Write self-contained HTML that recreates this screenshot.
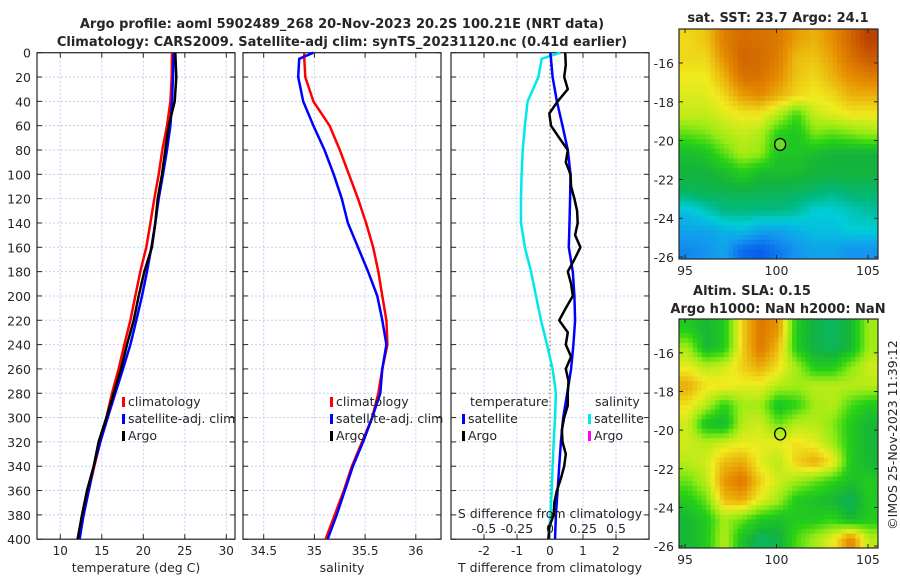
<!DOCTYPE html>
<html><head><meta charset="utf-8"><style>
body{margin:0;background:#fff;}
svg text{font-family:"DejaVu Sans","Liberation Sans",sans-serif;fill:#262626;}
</style></head><body>
<svg id="c" width="900" height="580" viewBox="0 0 900 580" xmlns="http://www.w3.org/2000/svg"></svg>
<script>
// ---------- data ----------
const depths20 = [0,20,40,60,80,100,120,140,160,180,200,220,240,260,280,300,320,340,360,380,400];
const depthsS = [0,5,20,40,60,80,100,120,140,160,180,200,220,240,260,280,300,320,340,360,380,400];
const depths10 = [0,10,20,30,40,50,60,70,80,90,100,110,120,130,140,150,160,170,180,190,200,210,220,230,240,250,260,270,280,290,300,310,320,330,340,350,360,370,380,390,400];
const tempClim = [23.46,23.42,23.26,22.86,22.29,21.85,21.33,20.85,20.36,19.64,19.04,18.44,17.71,17.03,16.23,15.55,14.82,14.10,13.42,12.81,12.13];
const tempSat = [23.66,23.58,23.46,23.26,22.86,22.37,21.85,21.45,20.97,20.45,19.84,19.16,18.44,17.55,16.63,15.71,14.82,14.02,13.42,12.81,12.33];
const tempArgo = [23.86,23.98,23.78,23.06,22.65,22.25,21.73,21.45,21.04,20.12,19.44,18.84,18.04,17.31,16.43,15.55,14.62,14.02,13.22,12.61,12.09];
const salClim = [34.90,34.90,34.91,34.99,35.15,35.25,35.34,35.43,35.51,35.58,35.63,35.67,35.71,35.72,35.67,35.63,35.57,35.47,35.37,35.29,35.20,35.11];
const salSat = [34.99,34.85,34.84,34.89,34.99,35.10,35.19,35.27,35.33,35.43,35.53,35.62,35.67,35.71,35.67,35.65,35.57,35.48,35.38,35.30,35.22,35.13];
const sDiffSat = [0.078,-0.063,-0.088,-0.17,-0.19,-0.207,-0.215,-0.22,-0.22,-0.19,-0.144,-0.106,-0.068,-0.023,0.02,0.045,0.038,0.028,0.02,0.013,0.003,-0.01];
const tDiffSat = [0.01,0.03,0.08,0.21,0.38,0.54,0.62,0.61,0.59,0.57,0.69,0.74,0.76,0.71,0.64,0.52,0.40,0.33,0.28,0.23,0.18,0.15];
const tDiffArgo = [0.46,0.48,0.43,0.54,0.23,-0.02,0.03,0.28,0.54,0.48,0.62,0.64,0.74,0.82,0.84,0.76,0.92,0.74,0.54,0.64,0.69,0.48,0.28,0.54,0.48,0.64,0.48,0.56,0.54,0.54,0.43,0.36,0.38,0.48,0.43,0.33,0.21,0.13,0.11,-0.02,-0.05];
const depthTicks = [0,20,40,60,80,100,120,140,160,180,200,220,240,260,280,300,320,340,360,380,400];
const tempTicks = [10,15,20,25,30];
const salTicks = [34.5,35,35.5,36];
const tDiffTicks = [-2,-1,0,1,2];
const sDiffTicks = [-0.5,-0.25,0,0.25,0.5];
const sDiffLabels = ['-0.5','-0.25','0','0.25','0.5'];
const lonTicks = [95,100,105];
const latTicks = [-16,-18,-20,-22,-24,-26];
const sstGrid = [
[0.72,0.74,0.82,0.85,0.84,0.83,0.78,0.76,0.80,0.86,0.92],
[0.72,0.72,0.80,0.86,0.85,0.82,0.75,0.74,0.78,0.84,0.88],
[0.70,0.70,0.76,0.84,0.84,0.80,0.74,0.72,0.76,0.80,0.82],
[0.68,0.68,0.72,0.78,0.80,0.76,0.72,0.70,0.72,0.76,0.76],
[0.66,0.66,0.68,0.70,0.70,0.64,0.56,0.66,0.68,0.70,0.70],
[0.58,0.60,0.64,0.66,0.64,0.54,0.52,0.60,0.58,0.60,0.62],
[0.50,0.52,0.58,0.64,0.62,0.52,0.52,0.50,0.48,0.48,0.48],
[0.48,0.48,0.50,0.54,0.50,0.50,0.50,0.48,0.48,0.48,0.48],
[0.45,0.46,0.46,0.47,0.46,0.46,0.45,0.44,0.42,0.44,0.44],
[0.34,0.38,0.42,0.42,0.42,0.42,0.40,0.36,0.36,0.38,0.40],
[0.30,0.30,0.32,0.34,0.30,0.30,0.32,0.34,0.34,0.36,0.36],
[0.26,0.28,0.30,0.22,0.20,0.24,0.28,0.30,0.30,0.28,0.28]];
const slaGrid = [
[0.53,0.49,0.53,0.73,0.83,0.79,0.53,0.47,0.45,0.49,0.63],
[0.63,0.49,0.53,0.73,0.83,0.75,0.53,0.47,0.45,0.49,0.63],
[0.69,0.65,0.67,0.73,0.77,0.71,0.63,0.53,0.53,0.61,0.67],
[0.77,0.71,0.71,0.69,0.69,0.65,0.63,0.65,0.65,0.65,0.65],
[0.71,0.65,0.55,0.63,0.63,0.51,0.55,0.63,0.65,0.57,0.53],
[0.67,0.51,0.49,0.65,0.67,0.59,0.65,0.65,0.61,0.53,0.49],
[0.67,0.65,0.67,0.69,0.69,0.69,0.71,0.69,0.63,0.53,0.49],
[0.65,0.67,0.75,0.77,0.69,0.65,0.73,0.77,0.71,0.53,0.49],
[0.59,0.65,0.79,0.83,0.73,0.67,0.63,0.59,0.55,0.51,0.53],
[0.53,0.59,0.75,0.77,0.69,0.63,0.53,0.51,0.49,0.45,0.53],
[0.49,0.53,0.63,0.59,0.53,0.51,0.53,0.53,0.55,0.49,0.53],
[0.49,0.53,0.65,0.51,0.45,0.47,0.57,0.63,0.69,0.81,0.65]];
const argoLon = 100.2, argoLat = -20.2;

// ---------- helpers ----------
const NS='http://www.w3.org/2000/svg';
const svg=document.getElementById('c');
function mk(tag,attrs,parent){const e=document.createElementNS(NS,tag);for(const k in attrs)e.setAttribute(k,attrs[k]);(parent||svg).appendChild(e);return e;}
function txt(s,x,y,o,parent){const t=mk('text',Object.assign({x:x,y:y,'font-size':12},o||{}),parent);t.textContent=s;return t;}
const Y0=52.7, Y1=539.2;
const yD=d=>Y0+d*(Y1-Y0)/400;
const xT=v=>60.3+(v-10)*8.3;
const xS=v=>263.7+(v-34.5)*101.4;
const xTD=v=>550+v*33;
const xSD=v=>550+v*132;

function panel(name,x0,x1,xTicks,xf,labels){
  const g=mk('g',{});
  
  
  depthTicks.forEach(d=>{mk('line',{x1:x0,x2:x1,y1:yD(d),y2:yD(d),stroke:'#c5cdf0','stroke-width':1,'stroke-dasharray':'2,2'},g);});
  xTicks.forEach(v=>{mk('line',{x1:xf(v),x2:xf(v),y1:Y0,y2:Y1,stroke:'#c5cdf0','stroke-width':1,'stroke-dasharray':'2,2'},g);});
  mk('rect',{x:x0,y:Y0,width:x1-x0,height:Y1-Y0,fill:'none',stroke:'#262626','stroke-width':1.2},g);
  depthTicks.forEach(d=>{const y=yD(d);mk('line',{x1:x0,x2:x0+5,y1:y,y2:y,stroke:'#262626'},g);mk('line',{x1:x1-5,x2:x1,y1:y,y2:y,stroke:'#262626'},g);});
  xTicks.forEach((v,i)=>{const x=xf(v);mk('line',{x1:x,x2:x,y1:Y1-5,y2:Y1,stroke:'#262626'},g);mk('line',{x1:x,x2:x,y1:Y0,y2:Y0+5,stroke:'#262626'},g);
    const t=txt(labels?labels[i]:String(v),x,555,{'text-anchor':'middle'},g);
    
    });
  return g;
}
function line(name,xs,ds,xf,color,w){
  const pts=xs.map((v,i)=>xf(v).toFixed(1)+','+yD(ds[i]).toFixed(1)).join(' ');
  const p=mk('polyline',{points:pts,fill:'none',stroke:color,'stroke-width':w||2.5,'stroke-linejoin':'round'});
  
  
  return p;
}
function legendEntry(name,x,y,color,label){
  const g=mk('g',{});
  
  
  mk('rect',{x:x,y:y-9,width:3,height:10,fill:color},g);
  txt(label,x+6,y,{'font-size':12.5},g);
}

let t=txt('Argo profile: aoml 5902489_268 20-Nov-2023 20.2S 100.21E (NRT data)',342,28,{'text-anchor':'middle','font-weight':'bold','font-size':13});


t=txt('Climatology: CARS2009. Satellite-adj clim: synTS_20231120.nc (0.41d earlier)',342,46,{'text-anchor':'middle','font-weight':'bold','font-size':13});



panel('temperature-panel',37,235,tempTicks,xT);
depthTicks.forEach(d=>{const l=txt(String(d),31,yD(d)+5,{'text-anchor':'end','font-size':12.5});
  
  });
t=txt('temperature (deg C)',136,572,{'text-anchor':'middle','font-size':12.5});


line('temp-climatology-line',tempClim,depths20,xT,'#ff0000');
line('temp-satellite-line',tempSat,depths20,xT,'#0000ff');
line('temp-argo-line',tempArgo,depths20,xT,'#000000');
legendEntry('legend-climatology',122,406,'#ff0000','climatology');
legendEntry('legend-satellite-adj',122,423,'#0000ff','satellite-adj. clim');
legendEntry('legend-argo',122,440,'#000000','Argo');

panel('salinity-panel',243,441,salTicks,xS);
t=txt('salinity',342,572,{'text-anchor':'middle','font-size':12.5});


line('sal-climatology-line',salClim,depthsS,xS,'#ff0000');
line('sal-satellite-line',salSat,depthsS,xS,'#0000ff');
legendEntry('legend-sal-climatology',330,406,'#ff0000','climatology');
legendEntry('legend-sal-satellite-adj',330,423,'#0000ff','satellite-adj. clim');
legendEntry('legend-sal-argo',330,440,'#000000','Argo');

panel('difference-panel',451,649,tDiffTicks,xTD);
mk('line',{x1:550,x2:550,y1:Y0,y2:Y1,stroke:'#6b5a3a','stroke-width':1,'stroke-dasharray':'1.5,2.5'});
t=txt('T difference from climatology',550,572,{'text-anchor':'middle','font-size':12.5});


line('sdiff-satellite-line',sDiffSat,depthsS,xSD,'#00e8e8');
line('tdiff-satellite-line',tDiffSat,depthsS,xTD,'#0000ff');
line('tdiff-argo-line',tDiffArgo,depths10,xTD,'#000000');
t=txt('S difference from climatology',550,518,{'text-anchor':'middle','font-size':12.5});


sDiffTicks.forEach((v,i)=>{const l=txt(sDiffLabels[i],xSD(v),533,{'text-anchor':'middle','font-size':12.5});
  
  });
t=txt('temperature',470,406,{'font-size':12.5});


t=txt('salinity',595,406,{'font-size':12.5});


legendEntry('legend-t-satellite',462,423,'#0000ff','satellite');
legendEntry('legend-t-argo',462,440,'#000000','Argo');
legendEntry('legend-s-satellite',588,423,'#00e8e8','satellite');
legendEntry('legend-s-argo',588,440,'#ff00ff','Argo');

// ---------- maps ----------
const stops=[[0,[0,0,140]],[0.15,[0,60,230]],[0.28,[20,150,240]],[0.36,[0,205,215]],[0.42,[0,185,130]],[0.48,[20,180,60]],[0.55,[40,210,20]],[0.62,[150,235,20]],[0.7,[240,235,30]],[0.8,[230,140,0]],[0.9,[195,75,0]],[1,[150,30,0]]];
function cmap(v){v=Math.max(0,Math.min(1,v));for(let i=1;i<stops.length;i++){if(v<=stops[i][0]){const a=stops[i-1],b=stops[i],f=(v-a[0])/(b[0]-a[0]);const c=a[1].map((x,k)=>Math.round(x+(b[1][k]-x)*f));return 'rgb('+c.join(',')+')';}}return 'rgb(150,30,0)';}
function bil(grid,r,c){const R=grid.length,C=grid[0].length;r=Math.max(0,Math.min(R-1,r));c=Math.max(0,Math.min(C-1,c));const r0=Math.floor(r),c0=Math.floor(c),r1=Math.min(R-1,r0+1),c1=Math.min(C-1,c0+1),fr=r-r0,fc=c-c0;
  return grid[r0][c0]*(1-fr)*(1-fc)+grid[r0][c1]*(1-fr)*fc+grid[r1][c0]*fr*(1-fc)+grid[r1][c1]*fr*fc;}
const LON0=94.67,LON1=105.55,LAT0=-14.25,LAT1=-26.1;
function map(name,grid,top,bottom,fillCircle){
  const x0=679,x1=878,W=x1-x0,H=bottom-top;
  const g=mk('g',{});
  
  
  const lx=lon=>x0+(lon-LON0)/(LON1-LON0)*W;
  const ly=lat=>top+(LAT0-lat)/(LAT0-LAT1)*H;
  const R=grid.length,C=grid[0].length,sub=4;
  const cw=W/(C*sub),ch=H/(R*sub);
  for(let i=0;i<R*sub;i++)for(let j=0;j<C*sub;j++){
    const v=bil(grid,(i+0.5)/sub-0.5,(j+0.5)/sub-0.5);
    const cell=mk('rect',{x:(x0+j*cw).toFixed(2),y:(top+i*ch).toFixed(2),width:(cw+0.4).toFixed(2),height:(ch+0.4).toFixed(2),fill:cmap(v)},g);
    
    
  }
  mk('rect',{x:x0,y:top,width:W,height:H,fill:'none',stroke:'#262626','stroke-width':1.2},g);
  latTicks.forEach(lat=>{const y=ly(lat);mk('line',{x1:x0,x2:x0+4,y1:y,y2:y,stroke:'#262626'},g);mk('line',{x1:x1-4,x2:x1,y1:y,y2:y,stroke:'#262626'},g);
    const l=txt(String(lat),674,y+5,{'text-anchor':'end','font-size':12.5},g);
    
    });
  lonTicks.forEach(lon=>{const x=lx(lon);mk('line',{x1:x,x2:x,y1:bottom-4,y2:bottom,stroke:'#262626'},g);mk('line',{x1:x,x2:x,y1:top,y2:top+4,stroke:'#262626'},g);
    const l=txt(String(lon),x,bottom+16,{'text-anchor':'middle','font-size':12.5},g);
    
    });
  const m=mk('ellipse',{cx:lx(argoLon),cy:ly(argoLat),rx:5.5,ry:6,fill:fillCircle,stroke:'#000','stroke-width':1.3},g);
  
  
}
map('sst-map',sstGrid,29,259,'#6ed82e');
map('sla-map',slaGrid,319,548,'none');
t=txt('sat. SST: 23.7 Argo: 24.1',778,22,{'text-anchor':'middle','font-weight':'bold','font-size':13});


t=txt('Altim. SLA: 0.15',752,295,{'text-anchor':'middle','font-weight':'bold','font-size':13});


t=txt('Argo h1000: NaN h2000: NaN',778,313,{'text-anchor':'middle','font-weight':'bold','font-size':13});


t=txt('©IMOS 25-Nov-2023 11:39:12',0,0,{'text-anchor':'middle','font-size':12.5,transform:'translate(897,435) rotate(-90)'});


</script>
</body></html>
